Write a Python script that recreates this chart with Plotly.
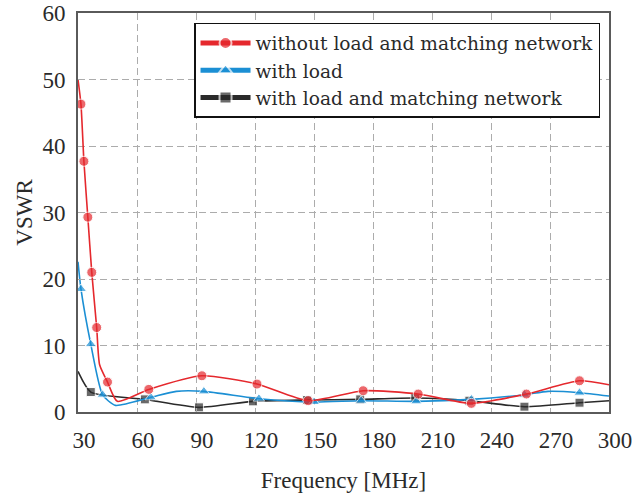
import plotly.graph_objects as go

# Frequency [MHz] and VSWR values
freq_red = [30, 31.5, 33, 35, 37, 39.5, 41, 45, 50, 66, 93, 121, 147, 175, 203, 230, 258, 285, 300]
vswr_red = [50, 46.3, 37.7, 29.3, 21.0, 12.7, 7.1, 4.5, 1.6, 3.4, 5.45, 4.2, 1.7, 3.2, 2.7, 1.3, 2.7, 4.7, 4.1]
mark_red = [0, 1, 1, 1, 1, 1, 0, 1, 0, 1, 1, 1, 1, 1, 1, 1, 1, 1, 0]

freq_blue = [30, 31.5, 36.5, 42.5, 49, 67, 80, 94, 122, 150, 174, 202, 230, 257, 269, 285, 300]
vswr_blue = [22.6, 18.5, 10.2, 2.6, 1.0, 2.2, 3.1, 3.1, 2.0, 1.5, 1.7, 1.6, 1.9, 2.6, 3.1, 2.9, 2.4]
mark_blue = [0, 1, 1, 1, 0, 1, 0, 1, 1, 1, 1, 1, 1, 1, 0, 1, 0]

freq_black = [30, 36.5, 64, 91.5, 119, 146.5, 173.5, 201.5, 229, 257, 285, 300]
vswr_black = [6.1, 3.0, 1.9, 0.7, 1.6, 1.8, 1.9, 2.1, 1.7, 0.8, 1.4, 1.7]
mark_black = [0, 1, 1, 1, 1, 1, 1, 1, 1, 1, 1, 0]

x_ticks = [30, 60, 90, 120, 150, 180, 210, 240, 270, 300]
y_ticks = [0, 10, 20, 30, 40, 50, 60]

names = ["without load and matching network", "with load", "with load and matching network"]

FONT = "Liberation Serif"
LEGEND_FONT = "DejaVu Serif"

fig = go.Figure()

def add(xs, ys, marks, name, color, symbol, size):
    fig.add_trace(go.Scatter(
        x=xs, y=ys, name=name, mode="lines+markers",
        line=dict(color=color, width=1.6, shape="spline", smoothing=0.6),
        marker=dict(color=color, symbol=symbol, size=[size if m else 0 for m in marks]),
    ))

add(freq_black, vswr_black, mark_black, names[2], "#2a2a2a", "square", 9)
add(freq_blue, vswr_blue, mark_blue, names[1], "#1b8fd4", "triangle-up", 10)
add(freq_red, vswr_red, mark_red, names[0], "#e5282d", "circle", 10)

axis_common = dict(
    showline=True, linecolor="#5a5a5a", linewidth=2, mirror=True,
    showgrid=True, gridcolor="#acacac", griddash="7px,4px", gridwidth=1.2,
    ticks="inside", ticklen=4, tickcolor="#aaa",
    zeroline=False, automargin=False, ticklabeloverflow="allow",
    tickfont=dict(family=FONT, size=23, color="#2a2a2a"),
    title_font=dict(family=FONT, size=23, color="#2a2a2a"),
)

fig.update_xaxes(range=[30, 300], tickvals=x_ticks, title_text="Frequency [MHz]",
                 title_standoff=20, ticklabelshift=6, ticklabelstandoff=6, **axis_common)
fig.update_yaxes(range=[0, 60], tickvals=y_ticks, title_text="VSWR",
                 title_standoff=3, ticklabelstandoff=6, **axis_common)

fig.update_layout(
    width=639, height=500,
    margin=dict(l=78, r=30, t=13, b=88),
    paper_bgcolor="white", plot_bgcolor="white",
    font=dict(family=FONT, size=23, color="#2a2a2a"),
    showlegend=True,
    hovermode=False,
    legend=dict(
        x=0.2185, y=0.975, xanchor="left", yanchor="top",
        traceorder="reversed",
        bordercolor="#111", borderwidth=1.5, bgcolor="white",
        font=dict(family=LEGEND_FONT, size=18.6, color="#2a2a2a"),
        tracegroupgap=0, itemsizing="constant", itemwidth=50,
    ),
)

# remove the default 8px page margin so the figure fills the window exactly
fig.write_html(
    "out.html",
    config={"displayModeBar": False},
    post_script="document.body.style.margin='0';document.body.style.overflow='hidden';",
)
